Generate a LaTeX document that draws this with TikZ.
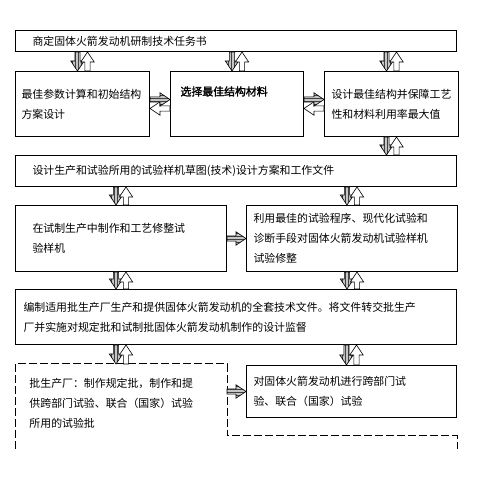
\documentclass[tikz,border=0pt]{standalone}
\usepackage{fontspec}
\setmainfont{Noto Sans CJK SC}
\newfontfamily\cjkbold[FakeBold=2]{Noto Sans CJK SC}
\usetikzlibrary{positioning,calc,patterns}

\begin{document}
\begin{tikzpicture}[x=1pt, y=-1pt,
node distance = 19pt and 20pt,
     B/.style = {rectangle, draw, line width=1pt, align=left, anchor=north west,
                 font=\fontsize{10.9pt}{20pt}\selectfont},
     F/.style = {to path={let \p1=(\tikztostart), \p2=(\tikztotarget),
                  \n1={atan2(\y2-\y1,\x2-\x1)}, \n2={veclen(\x2-\x1,\y2-\y1)} in
                  [shift={(\p1)}, rotate=\n1]
                  (0pt,2.6pt) -- ({\n2*1pt-10pt},2.6pt) -- ({\n2*1pt-10pt},6.7pt) -- ({\n2*1pt},0pt)
                  -- ({\n2*1pt-10pt},-6.7pt) -- ({\n2*1pt-10pt},-2.6pt) -- (0pt,-2.6pt) -- cycle}},
    HV/.style = {F, draw, line width=0.6pt, preaction={fill=gray!45},
                 pattern=vertical lines, pattern color=black!75},
    HH/.style = {F, draw, line width=0.6pt, preaction={fill=gray!45},
                 pattern=horizontal lines, pattern color=black!75},
     O/.style = {F, draw, line width=0.6pt, fill=white},
     D/.style = {line width=1pt, dash pattern=on 8pt off 3pt}
                    ]
\useasboundingbox (0,0) rectangle (491,489);
    \begin{scope}[nodes=B]
\node (1) at (15,30) [minimum width=441pt, minimum height=21pt, text width=407pt, inner xsep=17pt]
      {商定固体火箭发动机研制技术任务书};
\node (2) [below=19pt of 1.south west, anchor=north west, minimum width=134pt, minimum height=65pt,
           text width=122pt, inner xsep=6pt] {最佳参数计算和初始结构\\方案设计};
\node (3) [right=20pt of 2, minimum width=133pt, minimum height=65pt, text width=113pt, inner xsep=10pt]
      {{\cjkbold 选择最佳结构材料}\\ \strut};
\node (4) [right=20pt of 3, minimum width=134pt, minimum height=65pt, text width=120pt, inner xsep=7pt]
      {设计最佳结构并保障工艺\\性和材料利用率最大值};
\node (5) [below=18pt of 2.south west, anchor=north west, minimum width=441pt, minimum height=31pt,
           text width=407pt, inner xsep=17pt] {设计生产和试验所用的试验样机草图(技术)设计方案和工作文件};
\node (6) [below=18pt of 5.south west, anchor=north west, minimum width=211pt, minimum height=66pt,
           text width=177pt, inner xsep=17pt] {在试制生产中制作和工艺修整试\\验样机};
\node (7) [right=19pt of 6, minimum width=211pt, minimum height=66pt, text width=197pt, inner xsep=7pt]
      {利用最佳的试验程序、现代化试验和\\诊断手段对固体火箭发动机试验样机\\试验修整};
\node (8) [below=17pt of 6.south west, anchor=north west, minimum width=441pt, minimum height=55pt,
           text width=425pt, inner xsep=8pt]
      {编制适用批生产厂生产和提供固体火箭发动机的全套技术文件。将文件转交批生产\\厂并实施对规定批和试制批固体火箭发动机制作的设计监督};
\node (9) [below=19pt of 8.south west, anchor=north west, draw=none, minimum width=211pt, minimum height=78pt,
           text width=183pt, inner xsep=14pt]
      {批生产厂：制作规定批，制作和提\\供跨部门试验、联合（国家）试验\\所用的试验批};
\node (10) [below=20pt of 8.south east, anchor=north east, minimum width=210pt, minimum height=52pt,
            text width=196pt, inner xsep=7pt] {对固体火箭发动机进行跨部门试\\验、联合（国家）试验};
    \end{scope}
% open dashed outline of the batch plant
\draw[D] ([yshift=-6pt]9.south west) -- (9.north west) -- (9.north east) -- ([yshift=7pt]9.south east)
         -- ([yshift=7pt]9.south east -| 10.east) -- ([yshift=-6pt]9.south east -| 10.east);

\path   ([xshift=-5pt]2.north |- 1.south) edge[HV] ([xshift=-5pt]2.north)
        ([xshift=5pt]2.north) edge[O] ([xshift=5pt]2.north |- 1.south)
        ([xshift=-5pt]3.north |- 1.south) edge[HV] ([xshift=-5pt]3.north)
        ([xshift=5pt]3.north) edge[O] ([xshift=5pt]3.north |- 1.south)
        ([xshift=-5pt]4.north |- 1.south) edge[HV] ([xshift=-5pt]4.north)
        ([xshift=5pt]4.north) edge[O] ([xshift=5pt]4.north |- 1.south)

        ([yshift=-4.5pt]3.west) edge[O] ([yshift=-4.5pt]2.east)
        ([yshift=4.5pt]2.east) edge[HH] ([yshift=4.5pt]3.west)
        ([yshift=-4.5pt]4.west) edge[O] ([yshift=-4.5pt]3.east)
        ([yshift=4.5pt]3.east) edge[HH] ([yshift=4.5pt]4.west)

        ([xshift=-5pt]4.south) edge[HV] ([xshift=-5pt]4.south |- 5.north)
        ([xshift=5pt]4.south |- 5.north) edge[O] ([xshift=5pt]4.south)

        ([xshift=-5pt]6.north |- 5.south) edge[HV] ([xshift=-5pt]6.north)
        ([xshift=5pt]6.north) edge[O] ([xshift=5pt]6.north |- 5.south)
        ([xshift=-5pt]7.north |- 5.south) edge[HV] ([xshift=-5pt]7.north)
        ([xshift=5pt]7.north) edge[O] ([xshift=5pt]7.north |- 5.south)
        (6.east) edge[HH] (7.west)

        ([xshift=-5pt]6.south) edge[HV] ([xshift=-5pt]6.south |- 8.north)
        ([xshift=5pt]6.south |- 8.north) edge[O] ([xshift=5pt]6.south)
        ([xshift=-5pt]7.south) edge[HV] ([xshift=-5pt]7.south |- 8.north)
        ([xshift=5pt]7.south |- 8.north) edge[O] ([xshift=5pt]7.south)

        ([xshift=-5pt]9.north |- 8.south) edge[HV] ([xshift=-5pt]9.north)
        ([xshift=5pt]9.north) edge[O] ([xshift=5pt]9.north |- 8.south)
        ([xshift=-5pt]10.north |- 8.south) edge[HV] ([xshift=-5pt]10.north)
        ([xshift=5pt]10.north) edge[O] ([xshift=5pt]10.north |- 8.south)
        (9.east |- 10.west) edge[HH] (10.west);
    \end{tikzpicture}
\end{document}
